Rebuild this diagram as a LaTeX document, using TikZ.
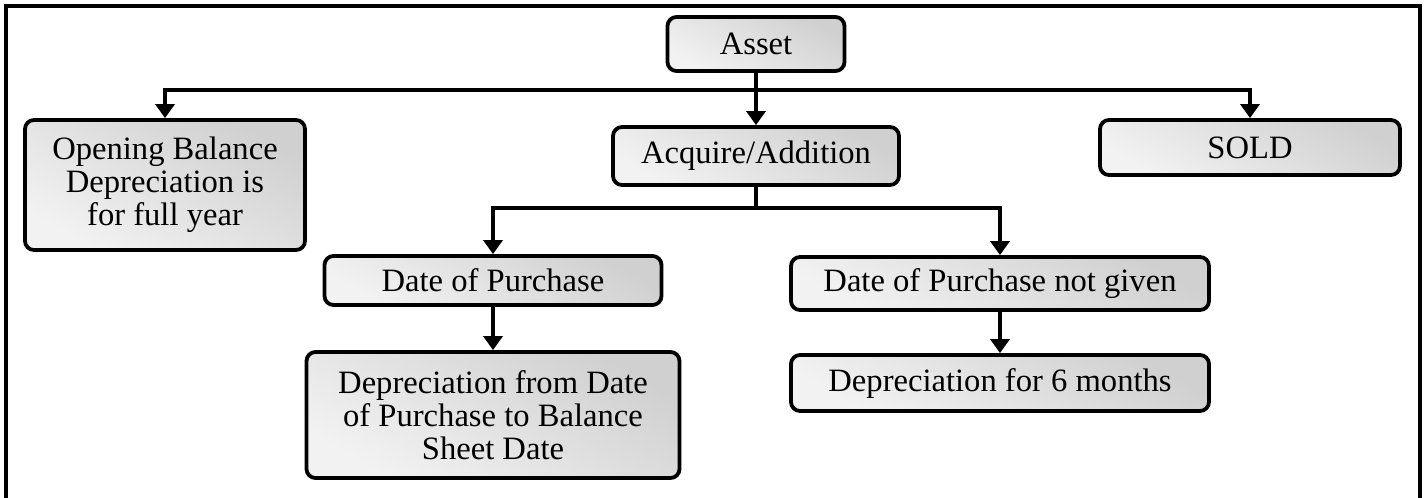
\documentclass[tikz,border=0pt]{standalone}
\usepackage{fontspec}
\setmainfont{Liberation Serif}
\usetikzlibrary{arrows.meta}
\definecolor{boxdark}{HTML}{D0D0D0}
\definecolor{boxlight}{HTML}{F2F2F2}
\begin{document}
\begin{tikzpicture}[x=0.5pt,y=-0.5pt,
  box/.style={draw=black, line width=1.9pt, rounded corners=4.5pt,
    top color=boxdark, bottom color=boxlight, shading angle=-30,
    align=center, inner sep=0pt, font=\fontsize{16.3}{16.5}\selectfont},
  conn/.style={line width=1.8pt},
  arr/.style={conn, -{Triangle[length=7pt,width=9.5pt]}}]
\useasboundingbox (0,0) rectangle (1426,498);
\draw[line width=2pt] (5.5,505) -- (5.5,5.5) -- (1420,5.5) -- (1420,505);

\node[box, minimum width=88.5pt, minimum height=27pt] (asset) at (756,44) {Asset};
\node[box, minimum width=140pt, minimum height=65pt] (open) at (165,185) {Opening Balance\\Depreciation is\\for full year};
\node[box, minimum width=143pt, minimum height=29pt] (acq) at (756,156) {Acquire/Addition};
\node[box, minimum width=150pt, minimum height=27.5pt] (sold) at (1250,147.5) {SOLD};
\node[box, minimum width=168.5pt, minimum height=24.5pt] (dop) at (493,280.5) {Date of Purchase};
\node[box, minimum width=209pt, minimum height=26.5pt] (dopng) at (1000,283.5) {Date of Purchase not given};
\node[box, minimum width=186.5pt, minimum height=63pt] (depfrom) at (493,415) {Depreciation from Date\\of Purchase to Balance\\Sheet Date};
\node[box, minimum width=209pt, minimum height=28pt] (dep6) at (1000,383) {Depreciation for 6 months};

\coordinate (j1) at (756,90);
\coordinate (j2) at (756,208);

\draw[arr] (asset.south) -- (acq.north);
\draw[arr] (j1) -| (open.north);
\draw[arr] (j1) -| (sold.north);
\draw[conn] (acq.south) -- (j2);
\draw[arr] (j2) -| (dop.north);
\draw[arr] (j2) -| (dopng.north);
\draw[arr] (dop.south) -- (depfrom.north);
\draw[arr] (dopng.south) -- (dep6.north);
\end{tikzpicture}
\end{document}
